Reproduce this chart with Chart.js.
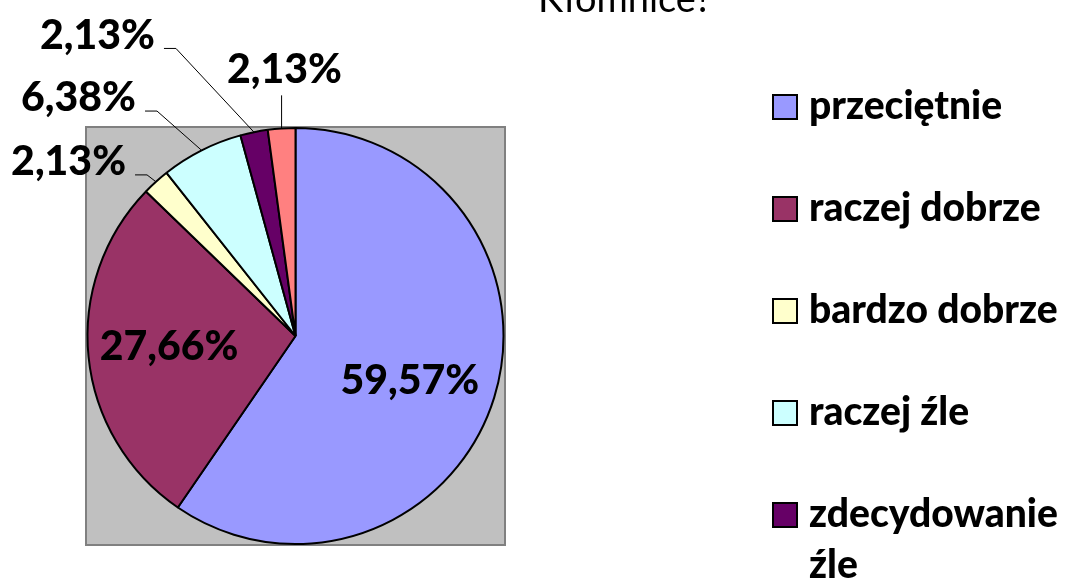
<!DOCTYPE html>
<html>
<head>
<meta charset="utf-8">
<script src="https://cdn.jsdelivr.net/npm/chart.js@4/dist/chart.umd.min.js"></script>
<style>
body { margin: 0; background: #fff; }
#wrap { width: 1068px; height: 579px; }
</style>
</head>
<body>
<div id="wrap"><canvas id="myChart" width="1068" height="579"></canvas></div>
<script>
const labels = ["przeciętnie", "raczej dobrze", "bardzo dobrze", "raczej źle", "zdecydowanie źle", "trudno powiedzieć"]
const values = [59.57, 27.66, 2.13, 6.38, 2.13, 2.13]
const colors = ["#9999FF", "#993366", "#FFFFCC", "#CCFFFF", "#660066", "#FF8080"]
const titleText = "Kłomnice?"

// where each % label sits, in pie radii from the center (beyond 1 = outside, with a leader line)
const labelSpots = [[0.55, 0.215], [-0.608, 0.053], [-1.091, -0.837], [-1.043, -1.144], [-0.952, -1.445], [-0.053, -1.282]]

function fmt(v) {
	return v.toFixed(2).replace(".", ",") + "%"
}

function wrapText(ctx, text, maxW) {
	const words = text.split(" ")
	const lines = []
	let cur = ""
	words.forEach(w => {
		const test = cur ? cur + " " + w : w
		if (cur && ctx.measureText(test).width > maxW) {
			lines.push(cur)
			cur = w
		} else {
			cur = test
		}
	})
	lines.push(cur)
	return lines
}

// grey plot area behind the pie
const plotBox = {
	id: "plotBox",
	beforeDraw(chart) {
		const { ctx, chartArea: a } = chart
		ctx.save()
		ctx.fillStyle = "#C0C0C0"
		ctx.fillRect(a.left, a.top, a.width, a.height)
		ctx.strokeStyle = "#808080"
		ctx.lineWidth = 2
		ctx.strokeRect(a.left, a.top, a.width, a.height)
		ctx.restore()
	}
}

const pieLabels = {
	id: "pieLabels",
	afterDatasetsDraw(chart) {
		const ctx = chart.ctx
		const meta = chart.getDatasetMeta(0)
		const ds = chart.data.datasets[0]
		ctx.save()
		ctx.font = "900 41px Lato"
		ctx.textAlign = "center"
		ctx.textBaseline = "middle"
		meta.data.forEach((arc, i) => {
			const { x, y, startAngle, endAngle, outerRadius } = arc.getProps(["x", "y", "startAngle", "endAngle", "outerRadius"], true)
			const txt = fmt(ds.data[i])
			const lx = x + labelSpots[i][0] * outerRadius
			const ly = y + labelSpots[i][1] * outerRadius
			const mid = (startAngle + endAngle) / 2
			const ex = x + Math.cos(mid) * outerRadius
			const ey = y + Math.sin(mid) * outerRadius
			if (Math.hypot(labelSpots[i][0], labelSpots[i][1]) > 1) {
				const w = ctx.measureText(txt).width
				ctx.beginPath()
				ctx.strokeStyle = "#000"
				ctx.lineWidth = 1
				if (Math.abs(lx - ex) < w / 2) {
					ctx.moveTo(ex, ly + 26)
					ctx.lineTo(ex, ey)
				} else {
					const hy = ly + 13
					ctx.moveTo(lx + w / 2 + 9, hy)
					ctx.lineTo(lx + w / 2 + 21, hy)
					ctx.lineTo(ex, ey)
				}
				ctx.stroke()
			}
			ctx.fillStyle = "#000"
			ctx.fillText(txt, lx, ly)
		})
		ctx.restore()
	}
}

const sideLegend = {
	id: "sideLegend",
	afterDraw(chart) {
		const ctx = chart.ctx
		const ds = chart.data.datasets[0]
		ctx.save()
		// title, cut off by the top edge like in the original
		ctx.font = "38px Lato"
		ctx.textAlign = "center"
		ctx.textBaseline = "alphabetic"
		ctx.fillStyle = "#000"
		ctx.fillText(titleText, 625, 12)

		ctx.font = "900 39px Lato"
		ctx.textAlign = "left"
		let y = 107
		chart.data.labels.forEach((lab, i) => {
			ctx.fillStyle = ds.backgroundColor[i]
			ctx.fillRect(773, y - 12, 24, 24)
			ctx.strokeStyle = "#000"
			ctx.lineWidth = 2
			ctx.strokeRect(773, y - 12, 24, 24)
			ctx.fillStyle = "#000"
			const lines = wrapText(ctx, lab, 255)
			lines.forEach((ln, k) => ctx.fillText(ln, 809, y + 12 + k * 51))
			y += 102 + (lines.length - 1) * 51
		})
		ctx.restore()
	}
}

new Chart("myChart", {
	type: "pie",
	data: {
		labels: labels,
		datasets: [
			{
				data: values,
				backgroundColor: colors,
				borderColor: "#000",
				borderWidth: 2
			}
		]
	},
	options: {
		responsive: false,
		animation: false,
		layout: {
			padding: { left: 86, top: 127, right: 563, bottom: 34 }
		},
		plugins: {
			legend: { display: false },
			tooltip: { enabled: false }
		}
	},
	plugins: [plotBox, pieLabels, sideLegend]
})
</script>
</body>
</html>
